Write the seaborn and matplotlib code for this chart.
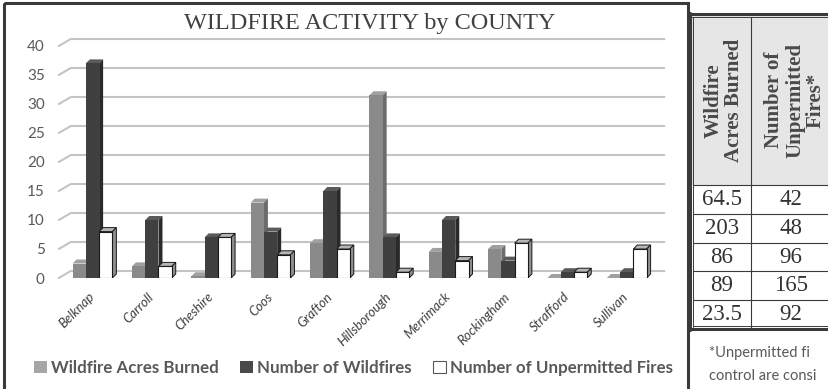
import numpy as np
import pandas as pd
import matplotlib
matplotlib.use('Agg')
import matplotlib.pyplot as plt
from matplotlib.patches import Polygon, Rectangle, Patch
import seaborn as sns

# chart data
counties = ['Belknap', 'Carroll', 'Cheshire', 'Coos', 'Grafton', 'Hillsborough',
            'Merrimack', 'Rockingham', 'Strafford', 'Sullivan']
acres_burned = [2.5, 2, 0.3, 13, 6, 31.5, 4.5, 5, 0, 0]
num_wildfires = [37, 10, 7, 8, 15, 7, 10, 3, 1, 1]
num_unpermitted = [8, 2, 7, 4, 5, 1, 3, 6, 1, 5]
series_names = ['Wildfire Acres Burned', 'Number of Wildfires', 'Number of Unpermitted Fires']
yticks = [0, 5, 10, 15, 20, 25, 30, 35, 40]

# side table (cut off at the right edge in the reference)
table_header = ['Wildfire\nAcres Burned', 'Number of\nUnpermitted\nFires*']
table_acres = ['64.5', '203', '86', '89', '23.5']
table_unpermitted = ['42', '48', '96', '165', '92']
footnote = ['*Unpermitted fi', 'control are consi']

df = pd.DataFrame({'county': counties * 3,
                   'series': np.repeat(series_names, len(counties)),
                   'value': acres_burned + num_wildfires + num_unpermitted})

front = ['#8a8a8a', '#404040', '#ffffff']
side = ['#6c6c6c', '#2a2a2a', '#8f8f8f']
top = ['#a0a0a0', '#5a5a5a', '#b5b5b5']

sns.set_style('white')
plt.rcParams['font.family'] = ['Lato', 'DejaVu Sans']

W, H = 829, 389
fig = plt.figure(figsize=(W / 100, H / 100), dpi=100)

# plot area in pixels
x_left, x_right, y_base, y_top = 62.8, 656.4, 278, 46
ax = fig.add_axes([x_left / W, 1 - y_base / H, (x_right - x_left) / W, (y_base - y_top) / H])
ax.patch.set_alpha(0)

sns.barplot(data=df, x='county', y='value', hue='series', hue_order=series_names,
            palette=front, width=0.67, saturation=1, linewidth=0, legend=False, ax=ax)
ax.set_xlim(-0.5, 9.5)
ax.set_ylim(0, 40)

px_x = (x_right - x_left) / 10
px_y = (y_base - y_top) / 40

# fake 3D: top and side faces on every bar
ddx, ddy = 4 / px_x, 4 / px_y
for i, p in enumerate(ax.patches):
    s = i // len(counties)
    x0, w, h = p.get_x(), p.get_width(), p.get_height()
    z = 3 + (x0 + 1) * 0.1
    ec = '#1a1a1a' if s == 2 else 'none'
    lw = 0.7 if s == 2 else 0
    t = Polygon([(x0, h), (x0 + w, h), (x0 + w + ddx, h + ddy), (x0 + ddx, h + ddy)],
                fc=top[s], ec=ec, lw=lw, zorder=z)
    sd = Polygon([(x0 + w, 0), (x0 + w + ddx, ddy), (x0 + w + ddx, h + ddy), (x0 + w, h)],
                 fc=side[s], ec=ec, lw=lw, zorder=z)
    ax.add_patch(t)
    ax.add_patch(sd)
    p.set_zorder(z + 0.01)
    if s == 2:
        p.set_edgecolor('#1a1a1a')
        p.set_linewidth(0.8)

# back-wall gridlines with the little floor diagonal
gdx, gdy = 8 / px_x, 7 / px_y
for t in yticks:
    ax.plot([-0.5 - 4 / px_x, -0.5 + gdx, 9.5 + gdx], [t, t + gdy, t + gdy],
            color='#c4c4c4', lw=1.5, zorder=1, clip_on=False)

ax.set_yticks(yticks)
ax.tick_params(axis='y', length=0, pad=13, labelcolor='#595959', labelsize=11)
ax.set_xticks(range(len(counties)))
ax.set_xticklabels(counties, rotation=45, ha='right', va='center', rotation_mode='anchor',
                   fontsize=9.5, style='italic', color='#404040')
ax.tick_params(axis='x', length=0, pad=12)
ax.set_xlabel('')
ax.set_ylabel('')
sns.despine(ax=ax, left=True, bottom=True)

fig.text(370 / W, 1 - 24 / H, 'WILDFIRE ACTIVITY by COUNTY', ha='center', va='center',
         family='Liberation Serif', fontsize=17.5, color='#404040')

handles = [Patch(fc='#a6a6a6', ec='none'), Patch(fc='#4a4a4a', ec='none'),
           Patch(fc='white', ec='#595959', lw=0.8)]
fig.legend(handles, series_names, ncol=3, loc='center', bbox_to_anchor=(353.5 / W, 1 - 368 / H),
           frameon=False, prop={'family': 'Lato', 'weight': 'bold', 'size': 12.2},
           labelcolor='#595959', handlelength=0.75, handleheight=0.75,
           handletextpad=0.25, columnspacing=1.25)

# overlay in pixel units for the frame and the side table
ov = fig.add_axes([0, 0, 1, 1], zorder=-1)
ov.set_xlim(0, W)
ov.set_ylim(H, 0)
ov.axis('off')
dark = '#3a3a3a'
ov.add_patch(Rectangle((4.3, 3.3), 687.7 - 4.3, 420, fill=False, ec=dark, lw=2.2, clip_on=False))

col_x = [692.5, 751, 835]
head_top, head_bot, row_h = 15, 185.4, 28.65
ov.add_patch(Rectangle((col_x[0], head_top), W - col_x[0], head_bot - head_top, fc='#e6e6e6', ec='none'))
ov.plot([689.3, W], [14, 14], color=dark, lw=2.2)
ov.plot([692.5, W], [16.8, 16.8], color=dark, lw=0.7)
n_rows = len(table_acres)
bottom = head_bot + n_rows * row_h
ov.plot([690.2, 690.2], [13, bottom + 1.5], color=dark, lw=2.2)
ov.plot([692.6, 692.6], [16.8, bottom - 1.5], color=dark, lw=0.7)
ov.plot([col_x[1], col_x[1]], [16.8, bottom], color=dark, lw=0.8)
for r in range(n_rows):
    ov.plot([692.6, W], [head_bot + r * row_h] * 2, color=dark, lw=0.8)
ov.plot([692.6, W], [bottom - 2.8] * 2, color=dark, lw=0.7)
ov.plot([689.3, W], [bottom + 0.4] * 2, color=dark, lw=2.2)

head_x = [724, 795]
for hx, label in zip(head_x, table_header):
    ov.text(hx, (head_top + head_bot) / 2, label, rotation=90, ha='center', va='center',
            multialignment='center', family='Liberation Serif', weight='bold',
            fontsize=15, color='#4a4a4a', linespacing=1.05)

cell_x = [722, 791]
for r in range(n_rows):
    cy = head_bot + (r + 0.5) * row_h
    ov.text(cell_x[0], cy, table_acres[r], ha='center', va='center',
            family='Liberation Serif', fontsize=16.5, color='#333333')
    ov.text(cell_x[1], cy, table_unpermitted[r], ha='center', va='center',
            family='Liberation Serif', fontsize=16.5, color='#333333')

for k, line in enumerate(footnote):
    ov.text(709, 353 + k * 23, line, ha='left', va='center', fontsize=10.5, color='#595959')

fig.savefig('out.png', dpi=100)
